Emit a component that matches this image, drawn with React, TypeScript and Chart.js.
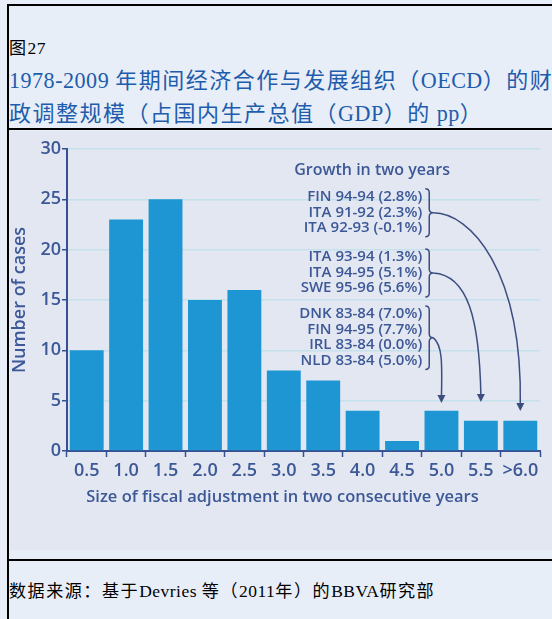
import React, { useEffect, useRef } from 'react';
import { Chart, registerables } from 'chart.js';

Chart.register(...registerables);

// ---------- data ----------
const categories = ['0.5', '1.0', '1.5', '2.0', '2.5', '3.0', '3.5', '4.0', '4.5', '5.0', '5.5', '>6.0'];
const cases = [10, 23, 25, 15, 16, 8, 7, 4, 1, 4, 3, 3];
const yTicks = [0, 5, 10, 15, 20, 25, 30];
const yTitle = 'Number of cases';
const xTitle = 'Size of fiscal adjustment in two consecutive years';
const noteTitle = 'Growth in two years';
const groupA = ['FIN 94-94 (2.8%)', 'ITA 91-92 (2.3%)', 'ITA 92-93 (-0.1%)'];
const groupB = ['ITA 93-94 (1.3%)', 'ITA 94-95 (5.1%)', 'SWE 95-96 (5.6%)'];
const groupC = ['DNK 83-84 (7.0%)', 'FIN 94-95 (7.7%)', 'IRL 83-84 (0.0%)', 'NLD 83-84 (5.0%)'];
const groupTargets = [11, 10, 9]; // category index each group's arrow points at
const figLabel = '图27';
const titleLines = ['1978-2009 年期间经济合作与发展组织（OECD）的财', '政调整规模（占国内生产总值（GDP）的 pp）'];
const sourceText = '数据来源：基于Devries 等（2011年）的BBVA研究部';

// ---------- styles ----------
const PAGE_BG = 'rgb(232,238,248)';
const CHART_BG = 'rgb(227,231,242)';
const BAR = 'rgb(30,150,212)';
const AXIS = 'rgb(55,80,145)';
const TEXT = 'rgb(60,88,150)';
const GRID = 'rgb(196,226,236)';
const LINE = 'rgb(60,78,128)';
const TITLE_COLOR = 'rgb(30,92,172)';
const SANS = '"Open Sans", "Noto Sans", sans-serif';
const CJK = '"Noto Sans CJK SC", sans-serif';
const LATIN = '"Liberation Serif", "DejaVu Serif", serif';

// annotation layout in (fractional category index, value) units
const notePos = { titleX: 7.24, titleY: 27.9, textRight: 8.51, braceL: 8.59, braceR: 8.79, lineGap: 15.5 };
const groupStartY = [25.25, 19.28, 13.62];
const arrowCurves = [
  { c1: [9.73, 23.66], c2: [11.05, 17.99], tipY: 3.98 },
  { c1: [9.68, 17.5], c2: [9.96, 13.02], tipY: 4.87 },
  { c1: [9.02, 10.54], c2: [9.02, 8.85], tipY: 4.77 },
];

const notesPlugin = {
  id: 'growthNotes',
  afterDraw(chart: any) {
    const { ctx, scales } = chart;
    const x = scales.x;
    const y = scales.y;
    const catW = x.getPixelForValue(1) - x.getPixelForValue(0);
    const px = (f: number) => x.getPixelForValue(0) + f * catW;
    const py = (v: number) => y.getPixelForValue(v);
    ctx.save();
    ctx.fillStyle = TEXT;
    ctx.textBaseline = 'middle';
    ctx.textAlign = 'center';
    ctx.font = `600 16px ${SANS}`;
    ctx.fillText(noteTitle, px(notePos.titleX), py(notePos.titleY));

    // x axis title
    ctx.font = `600 16.5px ${SANS}`;
    ctx.fillText(xTitle, (x.left + x.right) / 2 - 21, x.bottom - 53);

    const groups = [groupA, groupB, groupC];
    ctx.font = `600 15px ${SANS}`;
    ctx.textAlign = 'right';
    ctx.strokeStyle = LINE;
    ctx.lineWidth = 1.5;
    groups.forEach((g, gi) => {
      const y0 = py(groupStartY[gi]);
      g.forEach((t, i) => ctx.fillText(t, px(notePos.textRight), y0 + i * notePos.lineGap));
      const top = y0 - 8;
      const bottom = y0 + (g.length - 1) * notePos.lineGap + 9;
      const mid = (top + bottom) / 2;
      const xl = px(notePos.braceL);
      const xr = px(notePos.braceR);
      const xm = (xl + xr) / 2;
      const r = 4;
      ctx.beginPath();
      ctx.moveTo(xl, top);
      ctx.quadraticCurveTo(xm, top, xm, top + r);
      ctx.lineTo(xm, mid - r);
      ctx.quadraticCurveTo(xm, mid, xr, mid);
      ctx.quadraticCurveTo(xm, mid, xm, mid + r);
      ctx.lineTo(xm, bottom - r);
      ctx.quadraticCurveTo(xm, bottom, xl, bottom);
      ctx.stroke();

      // arrow
      const a = arrowCurves[gi];
      const tx = px(groupTargets[gi]);
      const ty = py(a.tipY);
      const ah = 8;
      ctx.beginPath();
      ctx.moveTo(xr, mid);
      ctx.bezierCurveTo(px(a.c1[0]), py(a.c1[1]), px(a.c2[0]), py(a.c2[1]), tx, ty - ah + 1);
      ctx.stroke();
      ctx.beginPath();
      ctx.moveTo(tx, ty);
      ctx.lineTo(tx - 4, ty - ah);
      ctx.lineTo(tx + 4, ty - ah);
      ctx.closePath();
      ctx.fillStyle = LINE;
      ctx.fill();
      ctx.fillStyle = TEXT;
    });
    ctx.restore();
  },
};

// Render text mixing full-width CJK runs and Latin runs (SimSun-like metrics)
function Mixed({ text, em }: { text: string; em: number }) {
  const runs = text.match(/[\x00-\x7F]+|[^\x00-\x7F]+/g) || [];
  const cjkSize = em - 1.5;
  return (
    <>
      {runs.map((r, i) =>
        /^[\x00-\x7F]+$/.test(r) ? (
          <span key={i} style={{ fontFamily: LATIN, fontSize: em * 0.94, letterSpacing: 0.5 }}>
            {r}
          </span>
        ) : (
          <span key={i} style={{ fontFamily: CJK, fontSize: cjkSize, letterSpacing: 1.5 }}>
            {r}
          </span>
        )
      )}
    </>
  );
}

export default function App() {
  const ref = useRef<HTMLCanvasElement>(null);
  useEffect(() => {
    const chart = new Chart(ref.current as HTMLCanvasElement, {
      type: 'bar',
      data: {
        labels: categories,
        datasets: [
          {
            data: cases,
            backgroundColor: BAR,
            barPercentage: 0.86,
            categoryPercentage: 1,
          },
        ],
      },
      options: {
        responsive: false,
        animation: false,
        layout: { padding: { top: 18, right: 12, left: 0, bottom: 0 } },
        plugins: { legend: { display: false }, tooltip: { enabled: false } },
        scales: {
          x: {
            grid: { drawOnChartArea: false, tickLength: 6, tickColor: AXIS, tickWidth: 1.5, offset: true },
            border: { color: AXIS, width: 2 },
            ticks: {
              color: TEXT,
              font: { family: SANS, size: 18, weight: '600' },
              padding: 3,
              maxRotation: 0,
              autoSkip: false,
            },
            afterFit(s: any) {
              s.height = 99;
            },
          },
          y: {
            min: 0,
            max: 30,
            afterBuildTicks(s: any) {
              s.ticks = yTicks.map((v) => ({ value: v }));
            },
            grid: { color: GRID, lineWidth: 1.5, tickLength: 5, tickColor: AXIS, tickWidth: 1.5 },
            border: { color: AXIS, width: 2 },
            ticks: { color: TEXT, font: { family: SANS, size: 18, weight: '600' }, padding: 1 },
            title: {
              display: true,
              text: yTitle,
              color: TEXT,
              font: { family: SANS, size: 18, weight: '600' },
              padding: { top: -1, bottom: 0 },
            },
            afterFit(s: any) {
              s.width = 57;
            },
          },
        },
      },
      plugins: [notesPlugin],
    } as any);
    return () => chart.destroy();
  }, []);

  return (
    <div
      style={{
        position: 'fixed',
        left: 0,
        top: 0,
        width: 552,
        height: 619,
        overflow: 'hidden',
        background: PAGE_BG,
      }}
    >
      <div
        style={{
          position: 'absolute',
          left: 7,
          top: 4,
          width: 700,
          height: 800,
          border: '2px solid #000',
          boxSizing: 'border-box',
        }}
      />
      <div
        style={{
          position: 'absolute',
          left: 9,
          top: 37,
          lineHeight: '20px',
          color: '#000',
          whiteSpace: 'nowrap',
        }}
      >
        <Mixed text={figLabel} em={18.6} />
      </div>
      <div
        style={{
          position: 'absolute',
          left: 9,
          top: 62,
          lineHeight: '33px',
          color: TITLE_COLOR,
          whiteSpace: 'nowrap',
        }}
      >
        {titleLines.map((t, i) => (
          <div key={i} style={{ height: 33 }}>
            <Mixed text={t} em={23.5} />
          </div>
        ))}
      </div>
      <div style={{ position: 'absolute', left: 7, top: 128, width: 600, height: 2, background: '#000' }} />
      <div style={{ position: 'absolute', left: 10, top: 131, width: 542, height: 419, background: CHART_BG }}>
        <canvas ref={ref} width={542} height={419} style={{ display: 'block' }} />
      </div>
      <div style={{ position: 'absolute', left: 7, top: 559, width: 600, height: 2, background: '#000' }} />
      <div
        style={{
          position: 'absolute',
          left: 9,
          top: 580,
          lineHeight: '20px',
          color: '#000',
          whiteSpace: 'nowrap',
        }}
      >
        <Mixed text={sourceText} em={18.6} />
      </div>
    </div>
  );
}
